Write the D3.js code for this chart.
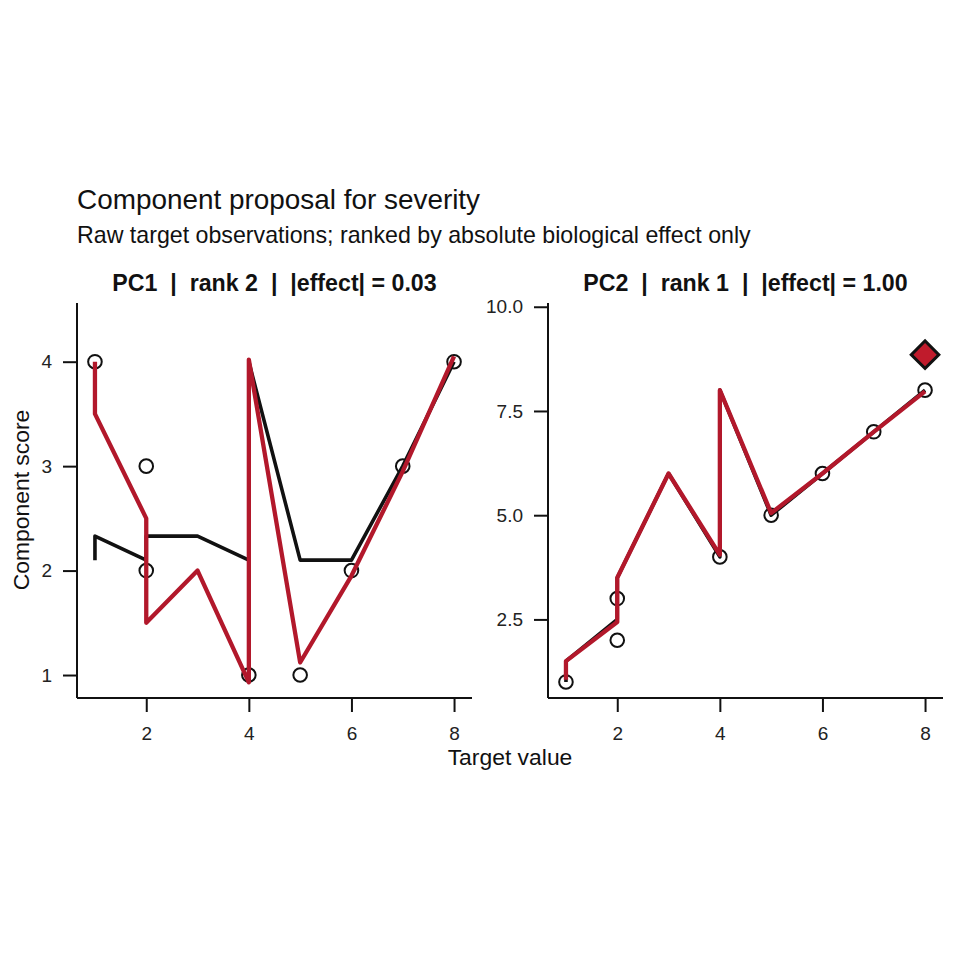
<!DOCTYPE html>
<html>
<head>
<meta charset="utf-8">
<script src="https://cdn.jsdelivr.net/npm/d3@7"></script>
<style>
  html, body { margin: 0; padding: 0; background: #fff; }
  svg { display: block; font-family: "Liberation Sans", Arial, Helvetica, sans-serif; }
</style>
</head>
<body>
<svg id="chart" width="960" height="960"></svg>
<script>
// ---------- data ----------
const titleText = "Component proposal for severity";
const subtitleText = "Raw target observations; ranked by absolute biological effect only";
const panelTitles = ["PC1  |  rank 2  |  |effect| = 0.03", "PC2  |  rank 1  |  |effect| = 1.00"];
const xLabel = "Target value";
const yLabel = "Component score";

// observations (circles)
const obsX = [1, 2, 2, 4, 5, 6, 7, 8];
const obsY1 = [4, 3, 2, 1, 1, 2, 3, 4];
const obsY2 = [1, 3, 2, 4, 5, 6, 7, 8];

// fitted paths (shared x sequence)
const fitX = [1, 1, 2, 2, 3, 4, 4, 5, 6, 7, 8];
const black1 = [2.1, 2.33, 2.1, 2.33, 2.33, 2.1, 4.0, 2.1, 2.1, 3.0, 4.0];
const red1   = [4.0, 3.5, 2.5, 1.5, 2.0, 0.93, 4.02, 1.12, 1.95, 2.95, 4.05];
const black2 = [1.0, 1.5, 2.5, 3.5, 6.0, 4.0, 8.0, 5.0, 6.0, 7.0, 8.0];
const red2   = [1.05, 1.5, 2.44, 3.5, 6.0, 4.05, 8.0, 5.05, 6.0, 7.0, 7.97];

// highlighted proposal (diamond) in panel 2
const diamondX = [8];
const diamondY = [8.85];

// axis ticks
const xTicks = [2, 4, 6, 8];
const yTicks1 = [1, 2, 3, 4];
const yTicks2 = [2.5, 5.0, 7.5, 10.0];

// domains
const xDomain = [0.65, 8.35];
const yDomain1 = [0.78, 4.562];
const yDomain2 = [0.615, 10.09];

// ---------- layout ----------
const svg = d3.select("#chart");
const panelTop = 303, panelBottom = 698, pw = 395;
const panelLeft = [77, 548];
const red = "#B2182B";
const ink = "#111111";

svg.append("text").attr("x", 77).attr("y", 209)
  .attr("font-size", 27.9).attr("fill", ink).text(titleText);
svg.append("text").attr("x", 77).attr("y", 243)
  .attr("font-size", 23.2).attr("fill", ink).text(subtitleText);

const panels = [
  { obsY: obsY1, black: black1, red: red1, yDom: yDomain1, yTicks: yTicks1, fmt: d3.format("d") },
  { obsY: obsY2, black: black2, red: red2, yDom: yDomain2, yTicks: yTicks2, fmt: d3.format(".1f") }
];

panels.forEach((p, i) => {
  const x0 = panelLeft[i];
  const x = d3.scaleLinear().domain(xDomain).range([x0, x0 + pw]);
  const y = d3.scaleLinear().domain(p.yDom).range([panelBottom, panelTop]);
  const g = svg.append("g");

  // strip title
  g.append("text").attr("x", x0 + pw / 2).attr("y", 291)
    .attr("text-anchor", "middle").attr("font-weight", "bold")
    .attr("xml:space", "preserve").style("white-space", "pre")
    .attr("font-size", 23.2).attr("fill", ink).text(panelTitles[i]);

  // axes
  const xAxis = d3.axisBottom(x).tickValues(xTicks).tickSize(14).tickPadding(10).tickFormat(d3.format("d"));
  const gx = g.append("g").attr("transform", `translate(0,${panelBottom})`).call(xAxis);
  const yAxis = d3.axisLeft(y).tickValues(p.yTicks).tickSize(14).tickPadding(11).tickFormat(p.fmt);
  const gy = g.append("g").attr("transform", `translate(${x0},0)`).call(yAxis);
  [gx, gy].forEach(a => {
    a.select(".domain").remove();
    a.selectAll(".tick line").attr("stroke", ink).attr("stroke-width", 2);
    a.selectAll(".tick text").attr("font-size", 19).attr("fill", "#222")
      .attr("font-family", "'Liberation Sans', Arial, sans-serif");
  });
  gx.selectAll(".tick text").attr("dy", "0.95em");
  // axis lines spanning full panel
  g.append("line").attr("x1", x0).attr("x2", x0 + pw).attr("y1", panelBottom).attr("y2", panelBottom)
    .attr("stroke", ink).attr("stroke-width", 2);
  g.append("line").attr("x1", x0).attr("x2", x0).attr("y1", panelTop).attr("y2", panelBottom)
    .attr("stroke", ink).attr("stroke-width", 2);

  // observations
  g.selectAll("circle.obs").data(obsX.map((d, k) => [d, p.obsY[k]])).enter()
    .append("circle").attr("class", "obs")
    .attr("cx", d => x(d[0])).attr("cy", d => y(d[1])).attr("r", 6.8)
    .attr("fill", "none").attr("stroke", ink).attr("stroke-width", 2);

  const line = d3.line().x(d => x(d[0])).y(d => y(d[1]));
  g.append("path").datum(fitX.map((d, k) => [d, p.black[k]]))
    .attr("d", line).attr("fill", "none").attr("stroke", ink)
    .attr("stroke-width", 3.6).attr("stroke-linejoin", "round");
  g.append("path").datum(fitX.map((d, k) => [d, p.red[k]]))
    .attr("d", line).attr("fill", "none").attr("stroke", red)
    .attr("stroke-width", 4.3).attr("stroke-linejoin", "round");

  if (i === 1) {
    const sym = d3.symbol().type(d3.symbolSquare).size(380);
    g.selectAll("path.dia").data(diamondX.map((d, k) => [d, diamondY[k]])).enter()
      .append("path").attr("class", "dia")
      .attr("d", sym)
      .attr("transform", d => `translate(${x(d[0])},${y(d[1])}) rotate(45)`)
      .attr("fill", "#C01B2C").attr("stroke", ink).attr("stroke-width", 3)
      .attr("stroke-linejoin", "miter");
  }
});

// axis titles
svg.append("text").attr("x", 510).attr("y", 765).attr("text-anchor", "middle")
  .attr("font-size", 22.9).attr("fill", ink).text(xLabel);
svg.append("text").attr("transform", "translate(29,500) rotate(-90)")
  .attr("text-anchor", "middle").attr("font-size", 22.9).attr("fill", ink).text(yLabel);
</script>
</body>
</html>
